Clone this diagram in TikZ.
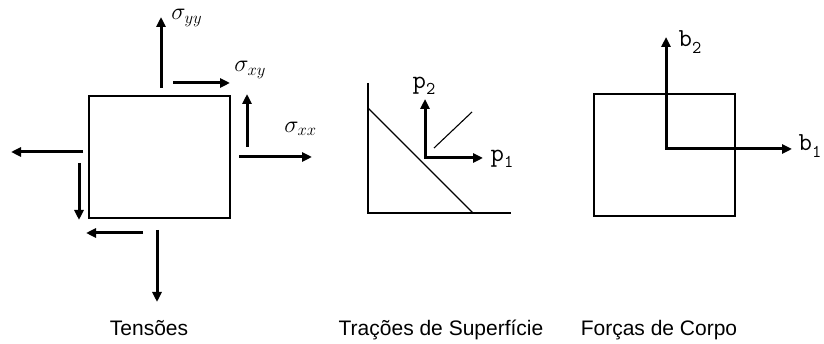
\documentclass[tikz,border=0pt]{standalone}
\usepackage{fontspec}
\setsansfont{Liberation Sans}
\usetikzlibrary{arrows.meta}
\newcommand\vsub[2]{#1\raisebox{-0.25em}{\fontsize{18}{18}\selectfont #2}}
\begin{document}
\begin{tikzpicture}[x=1pt,y=-1pt,
  frc/.style={line width=3pt,-{Triangle[length=10pt,width=9pt]}},
  frc2/.style={line width=3pt,{Triangle[length=10pt,width=9pt]}-{Triangle[length=10pt,width=9pt]}},
  box/.style={line width=1.3pt},
  thinl/.style={line width=1.1pt},
  capt/.style={font=\sffamily\fontsize{21}{24}\selectfont, anchor=base, inner sep=0pt},
  sig/.style={font=\fontsize{17.28}{20}\selectfont, scale=1.39, inner sep=0pt, anchor=west},
  vec/.style={font=\ttfamily\fontsize{26}{28}\selectfont, inner sep=0pt}]
\useasboundingbox (0,0) rectangle (824,344);
% ---- Tensoes ----
\draw[box] (89,96) rectangle (230,218);
\coordinate (yyA) at (161,88);  \coordinate (yyB) at (161,17);
\coordinate (xyA) at (173,83);  \coordinate (xyB) at (230,83);
\coordinate (rvA) at (247,147); \coordinate (rvB) at (247,94);
\coordinate (xxA) at (239,157); \coordinate (xxB) at (312,157);
\coordinate (lhA) at (83,152);  \coordinate (lhB) at (11,152);
\coordinate (lvA) at (79,163);  \coordinate (lvB) at (79,220);
\coordinate (bhA) at (143,233); \coordinate (bhB) at (86,233);
\coordinate (bvA) at (157,230); \coordinate (bvB) at (157,302);
\foreach \n in {yy,xy,rv,xx,lh,lv,bh,bv} \draw[frc] (\n A) -- (\n B);
\node[sig] (syy) at (171,18) {$\sigma_{yy}$};
\node[sig] (sxy) at (234,70) {$\sigma_{xy}$};
\node[sig] (sxx) at (284,129) {$\sigma_{xx}$};
\node[capt] (t1) at (149,335) {Tensões};
% ---- Tracoes ----
\coordinate (ax1) at (368,83);
\coordinate (ax0) at (368,213);
\coordinate (ax2) at (511,213);
\draw[thinl] (ax1) -- (ax0) -- (ax2);
\coordinate (dg1) at (368,108); \coordinate (dg2) at (473,213);
\draw[thinl] (dg1) -- (dg2);
\coordinate (nm1) at (434,148); \coordinate (nm2) at (472,112);
\draw[thinl] (nm1) -- (nm2);
\coordinate (pO) at (425,158); \coordinate (p2e) at (425,99); \coordinate (p1e) at (483,158);
\draw[frc2] (p2e) -- (pO) -- (p1e);
\node[vec] (lp2) at (424,86) {\vsub{p}{2}};
\node[vec] (lp1) at (502,159) {\vsub{p}{1}};
\node[capt] (t2) at (441,335) {Trações de Superfície};
% ---- Forcas ----
\draw[box] (594,94) rectangle (735,216);
\coordinate (bO) at (666,149); \coordinate (b2e) at (666,37); \coordinate (b1e) at (792,149);
\draw[frc2] (b2e) -- (bO) -- (b1e);
\node[vec] (lb2) at (690,42) {\vsub{b}{2}};
\node[vec] (lb1) at (810,146) {\vsub{b}{1}};
\node[capt] (t3) at (659,335) {Forças de Corpo};
\end{tikzpicture}
\end{document}
